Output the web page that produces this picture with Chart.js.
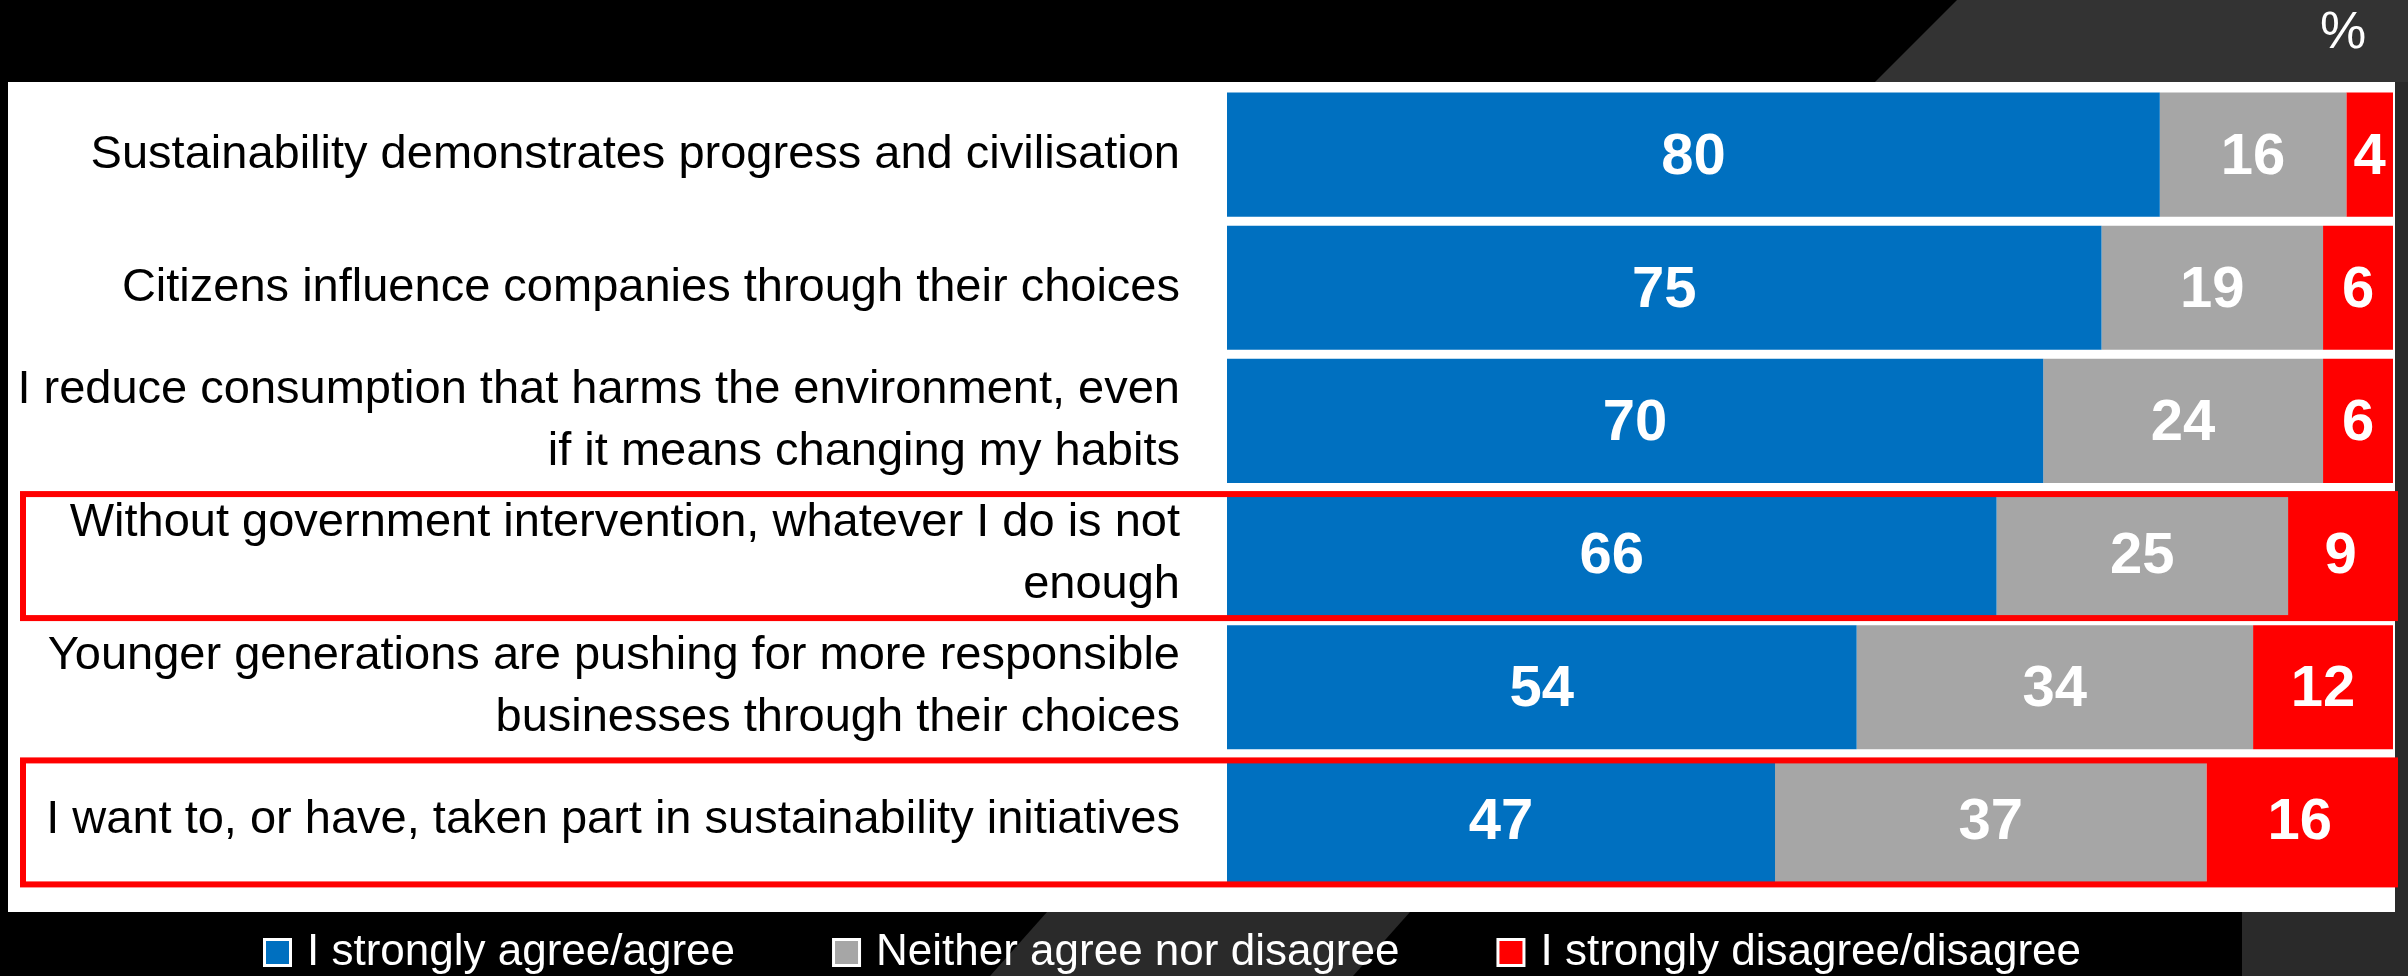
<!DOCTYPE html>
<html>
<head>
<meta charset="utf-8">
<script src="https://cdn.jsdelivr.net/npm/chart.js@4.4.0/dist/chart.umd.min.js"></script>
<style>
  html, body { margin: 0; padding: 0; background: #000; }
  canvas { display: block; }
</style>
</head>
<body>
<canvas id="chart" width="2408" height="976"></canvas>
<script>
const statements = [
  'Sustainability demonstrates progress and civilisation',
  'Citizens influence companies through their choices',
  ['I reduce consumption that harms the environment, even', 'if it means changing my habits'],
  ['Without government intervention, whatever I do is not', 'enough'],
  ['Younger generations are pushing for more responsible', 'businesses through their choices'],
  'I want to, or have, taken part in sustainability initiatives'
];
const agree = [80, 75, 70, 66, 54, 47];
const neutral = [16, 19, 24, 25, 34, 37];
const disagree = [4, 6, 6, 9, 12, 16];
const seriesNames = ['I strongly agree/agree', 'Neither agree nor disagree', 'I strongly disagree/disagree'];
const seriesColors = ['#0070C0', '#A6A6A6', '#FF0000'];
const highlightedRows = [3, 5];
const unitLabel = '%';

const FONT = "'Liberation Sans', Arial, sans-serif";

// slide background: black with dark grey bands and the white panel
const backdrop = {
  id: 'backdrop',
  beforeDraw(chart) {
    const ctx = chart.ctx;
    const W = chart.width, H = chart.height;
    ctx.save();
    ctx.fillStyle = '#000';
    ctx.fillRect(0, 0, W, H);
    ctx.fillStyle = '#333';
    ctx.beginPath();
    ctx.moveTo(1957, 0); ctx.lineTo(W, 0); ctx.lineTo(W, 82); ctx.lineTo(1875, 82);
    ctx.closePath(); ctx.fill();
    ctx.fillStyle = '#2a2a2a';
    ctx.fillRect(2395, 82, W - 2395, 830);
    ctx.beginPath();
    ctx.moveTo(1047, 912); ctx.lineTo(1410, 912); ctx.lineTo(1353, H); ctx.lineTo(990, H);
    ctx.closePath(); ctx.fill();
    ctx.fillRect(2242, 912, W - 2242, H - 912);
    ctx.fillStyle = '#fff';
    ctx.fillRect(8, 82, 2387, 830);
    ctx.fillStyle = '#fff';
    ctx.font = '52px ' + FONT;
    ctx.textAlign = 'center';
    ctx.textBaseline = 'middle';
    ctx.fillText(unitLabel, 2343, 34);
    ctx.restore();
  }
};

// red outline boxes + white value labels
const overlays = {
  id: 'overlays',
  afterDatasetsDraw(chart) {
    const ctx = chart.ctx;
    const yScale = chart.scales.y;
    ctx.save();
    ctx.strokeStyle = '#FF0000';
    ctx.lineWidth = 6;
    highlightedRows.forEach(row => {
      const c = yScale.getPixelForValue(row);
      ctx.strokeRect(23, c - 60, 2395 - 23, 124);
    });

    ctx.fillStyle = '#fff';
    ctx.font = 'bold 58px ' + FONT;
    ctx.textAlign = 'center';
    ctx.textBaseline = 'middle';
    chart.data.datasets.forEach((ds, di) => {
      chart.getDatasetMeta(di).data.forEach((bar, j) => {
        const p = bar.getCenterPoint();
        ctx.fillText(String(ds.data[j]), p.x, p.y + 3);
      });
    });
    ctx.restore();
  }
};

// legend under the panel, white text on the dark background
const bottomLegend = {
  id: 'bottomLegend',
  afterDraw(chart) {
    const ctx = chart.ctx;
    ctx.save();
    ctx.font = '44px ' + FONT;
    ctx.textBaseline = 'middle';
    ctx.textAlign = 'left';
    let x = 263;
    chart.data.datasets.forEach(ds => {
      ctx.fillStyle = '#fff';
      ctx.fillRect(x, 938, 29, 29);
      ctx.fillStyle = ds.backgroundColor;
      ctx.fillRect(x + 3, 941, 23, 23);
      ctx.fillStyle = '#fff';
      ctx.fillText(ds.label, x + 44, 953);
      x += 44 + ctx.measureText(ds.label).width + 97;
    });
    ctx.restore();
  }
};

const datasets = [agree, neutral, disagree].map((values, i) => ({
  label: seriesNames[i],
  data: values,
  backgroundColor: seriesColors[i],
  borderWidth: 0,
  barPercentage: 0.932,
  categoryPercentage: 1
}));

new Chart(document.getElementById('chart').getContext('2d'), {
  type: 'bar',
  data: { labels: statements, datasets },
  options: {
    indexAxis: 'y',
    responsive: false,
    animation: false,
    devicePixelRatio: 1,
    layout: { padding: { top: 88, right: 15, bottom: 89, left: 0 } },
    plugins: {
      legend: { display: false },
      tooltip: { enabled: false }
    },
    scales: {
      x: { stacked: true, min: 0, max: 100, display: false },
      y: {
        stacked: true,
        grid: { display: false, drawTicks: false },
        border: { display: false },
        ticks: {
          color: '#000',
          autoSkip: false,
          padding: 47,
          font: { family: FONT, size: 47, lineHeight: 1.32 }
        },
        afterFit(scale) { scale.width = 1227; }
      }
    }
  },
  plugins: [backdrop, overlays, bottomLegend]
});
</script>
</body>
</html>
